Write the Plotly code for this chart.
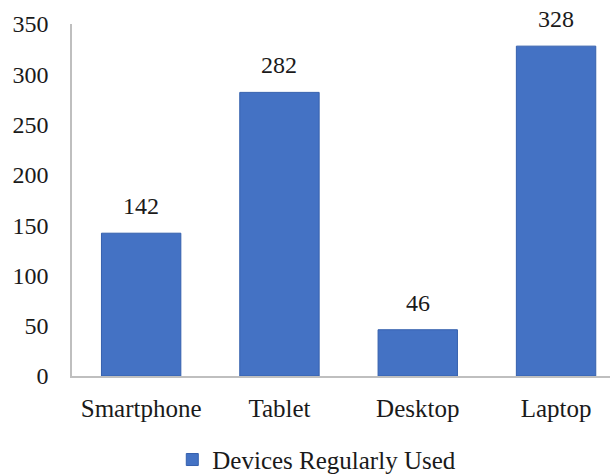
import plotly.graph_objects as go

categories = ["Smartphone", "Tablet", "Desktop", "Laptop"]
values = [142, 282, 46, 328]
series_name = "Devices Regularly Used"
y_ticks = [0, 50, 100, 150, 200, 250, 300, 350]

FONT = "Liberation Serif, Times New Roman, serif"
TXT = "#1a1a1a"

fig = go.Figure()
fig.add_trace(go.Bar(
    x=categories, y=values, name=series_name,
    marker=dict(color="#4472C4", line=dict(color="#3560ad", width=1)),
))
for c, v in zip(categories, values):
    fig.add_annotation(x=c, y=v, text=str(v), showarrow=False, yanchor="bottom",
                       yshift=12, font=dict(family=FONT, size=24, color=TXT))
fig.update_layout(
    width=610, height=474,
    margin=dict(l=72, r=0, t=24, b=98),
    paper_bgcolor="white", plot_bgcolor="white",
    bargap=0.426,
    font=dict(family=FONT, size=25, color=TXT),
    showlegend=True,
    legend=dict(orientation="h", x=0.455, xanchor="center", yref="container", y=0.03,
                yanchor="middle", itemwidth=30,
                font=dict(family=FONT, size=25, color=TXT)),
    xaxis=dict(range=[-0.5, 3.39], showline=True, linecolor="#bfbfbf", linewidth=1.5,
               showgrid=False, ticks="", ticklabelstandoff=9,
               tickfont=dict(family=FONT, size=25, color=TXT)),
    yaxis=dict(range=[0, 350], tickvals=y_ticks, showline=True, linecolor="#bfbfbf",
               linewidth=1.5, showgrid=False, zeroline=False, ticks="",
               ticklabelstandoff=17,
               tickfont=dict(family=FONT, size=24, color=TXT)),
)
fig.write_html("out.html")
